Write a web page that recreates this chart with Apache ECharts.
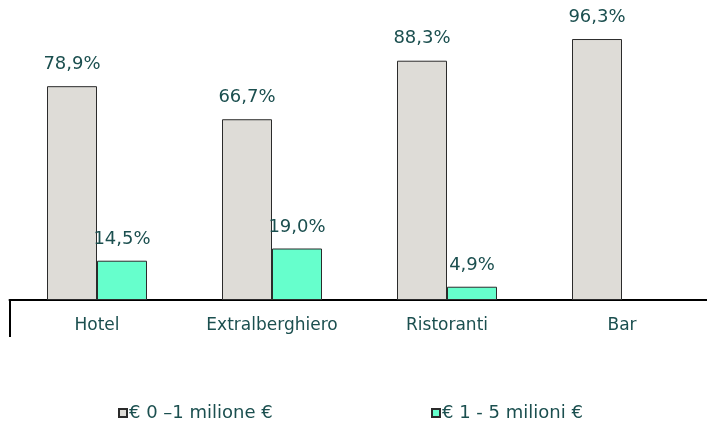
<!DOCTYPE html>
<html>
<head>
<meta charset="utf-8">
<script src="https://cdn.jsdelivr.net/npm/echarts@6/dist/echarts.min.js"></script>
<style>
  html, body { margin: 0; padding: 0; background: #fff; }
  #chart { width: 707px; height: 426px; }
</style>
</head>
<body>
<div id="chart"></div>
<script>
// categorie e valori (%)
const categories = ['Hotel', 'Extralberghiero', 'Ristoranti', 'Bar'];
const seriesNames = ['€ 0 –1 milione €', '€ 1 - 5 milioni €'];
const fascia1 = [78.9, 66.7, 88.3, 96.3];
const fascia2 = [14.5, 19.0, 4.9, null];

const textColor = '#1b4f4f';
const font = 'DejaVu Sans';

const fmt = function (p) {
    return p.value.toFixed(1).replace('.', ',') + '%';
};

// una legenda per voce, per posizionarle come nell'originale
const legendItem = function (name, left) {
    return {
        left: left,
        top: 399,
        itemWidth: 8,
        itemHeight: 8,
        icon: 'rect',
        textStyle: {fontFamily: font, fontSize: 18, color: textColor, padding: [0, 0, 0, -3]},
        data: [name]
    };
};

const chart = echarts.init(document.getElementById('chart'));

chart.setOption({
    animation: false,
    textStyle: {fontFamily: font, color: textColor},
    grid: {left: 9.5, top: 29, width: 700, bottom: 126, outerBoundsMode: 'none', containLabel: false},
    legend: [legendItem(seriesNames[0], 113), legendItem(seriesNames[1], 426)],
    xAxis: {
        type: 'category',
        data: categories,
        axisLine: {lineStyle: {color: '#000', width: 2}},
        axisTick: {
            show: true,
            length: 37,
            interval: function (i) { return i === 0; },
            lineStyle: {color: '#000', width: 2}
        },
        axisLabel: {fontFamily: font, fontSize: 17, color: textColor, margin: 17}
    },
    yAxis: {type: 'value', min: 0, max: 100, show: false},
    series: [
        {
            name: seriesNames[0],
            type: 'bar',
            data: fascia1,
            barWidth: 50,
            barGap: '0%',
            itemStyle: {color: '#dedcd7', borderColor: '#2b2b2b', borderWidth: 1},
            label: {
                show: true, position: 'top', distance: 13,
                fontFamily: font, fontSize: 18, color: textColor, formatter: fmt
            }
        },
        {
            name: seriesNames[1],
            type: 'bar',
            data: fascia2,
            barWidth: 50,
            itemStyle: {color: '#66ffcc', borderColor: '#2b2b2b', borderWidth: 1},
            label: {
                show: true, position: 'top', distance: 12,
                fontFamily: font, fontSize: 18, color: textColor, formatter: fmt
            }
        }
    ]
});
</script>
</body>
</html>
